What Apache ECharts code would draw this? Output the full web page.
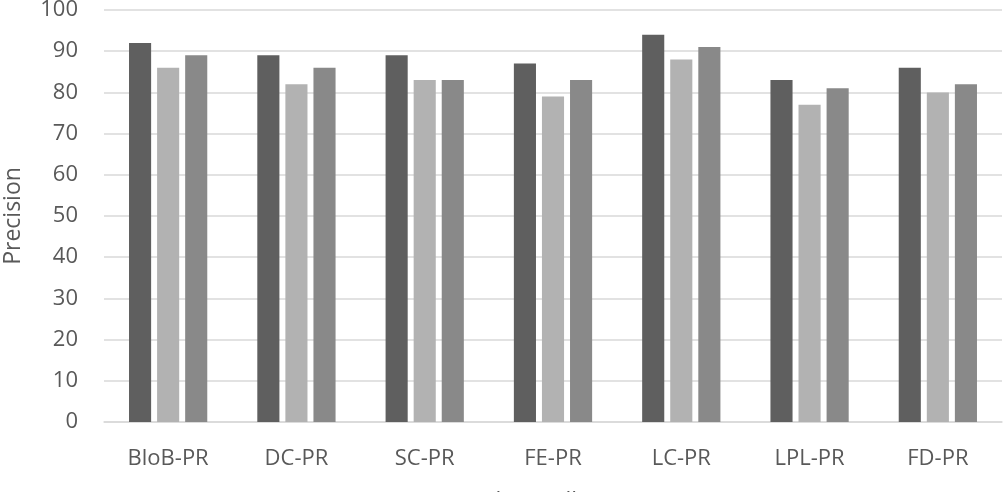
<!DOCTYPE html>
<html>
<head>
<meta charset="utf-8">
<script src="https://cdn.jsdelivr.net/npm/echarts@6/dist/echarts.min.js"></script>
<style>html,body{margin:0;padding:0;background:#fff}#c{width:1008px;height:492px}</style>
</head>
<body>
<div id="c"></div>
<script>
const categories = ['BloB-PR','DC-PR','SC-PR','FE-PR','LC-PR','LPL-PR','FD-PR'];
const series1 = [92, 89, 89, 87, 94, 83, 86];
const series2 = [86, 82, 83, 79, 88, 77, 80];
const series3 = [89, 86, 83, 83, 91, 81, 82];
const yTicks = {min: 0, max: 100, interval: 10};
const FONT = '"Open Sans", sans-serif';
const chart = echarts.init(document.getElementById('c'), null, {renderer: 'canvas'});
const mk = (name, data, color) => ({
  name, type: 'bar', data, barGap: '27%', barCategoryGap: '39%',
  itemStyle: {color}
});
chart.setOption({
  animation: false,
  title: {text: 'Code smells', left: 454, top: 486,
    textStyle: {fontFamily: FONT, fontSize: 23, fontWeight: 'normal', color: '#595959'}},
  grid: {left: 104, right: 6, top: 10, bottom: 70, containLabel: false, outerBoundsMode: 'none'},
  xAxis: {
    type: 'category', data: categories,
    axisLine: {show: true, lineStyle: {color: '#d9d9d9', width: 1.5}},
    axisTick: {show: false},
    axisLabel: {fontFamily: FONT, fontSize: 22, color: '#595959', margin: 26}
  },
  yAxis: {
    type: 'value', min: yTicks.min, max: yTicks.max, interval: yTicks.interval,
    name: 'Precision', nameLocation: 'middle', nameGap: 79, nameRotate: 90,
    nameTextStyle: {fontFamily: FONT, fontSize: 23, color: '#595959'},
    axisLine: {show: false}, axisTick: {show: false},
    axisLabel: {fontFamily: FONT, fontSize: 22, color: '#595959', margin: 26},
    splitLine: {lineStyle: {color: '#d9d9d9', width: 1.5}}
  },
  series: [
    mk('S1', series1, '#5f5f5f'),
    mk('S2', series2, '#b2b2b2'),
    mk('S3', series3, '#898989')
  ]
});
</script>
</body>
</html>
